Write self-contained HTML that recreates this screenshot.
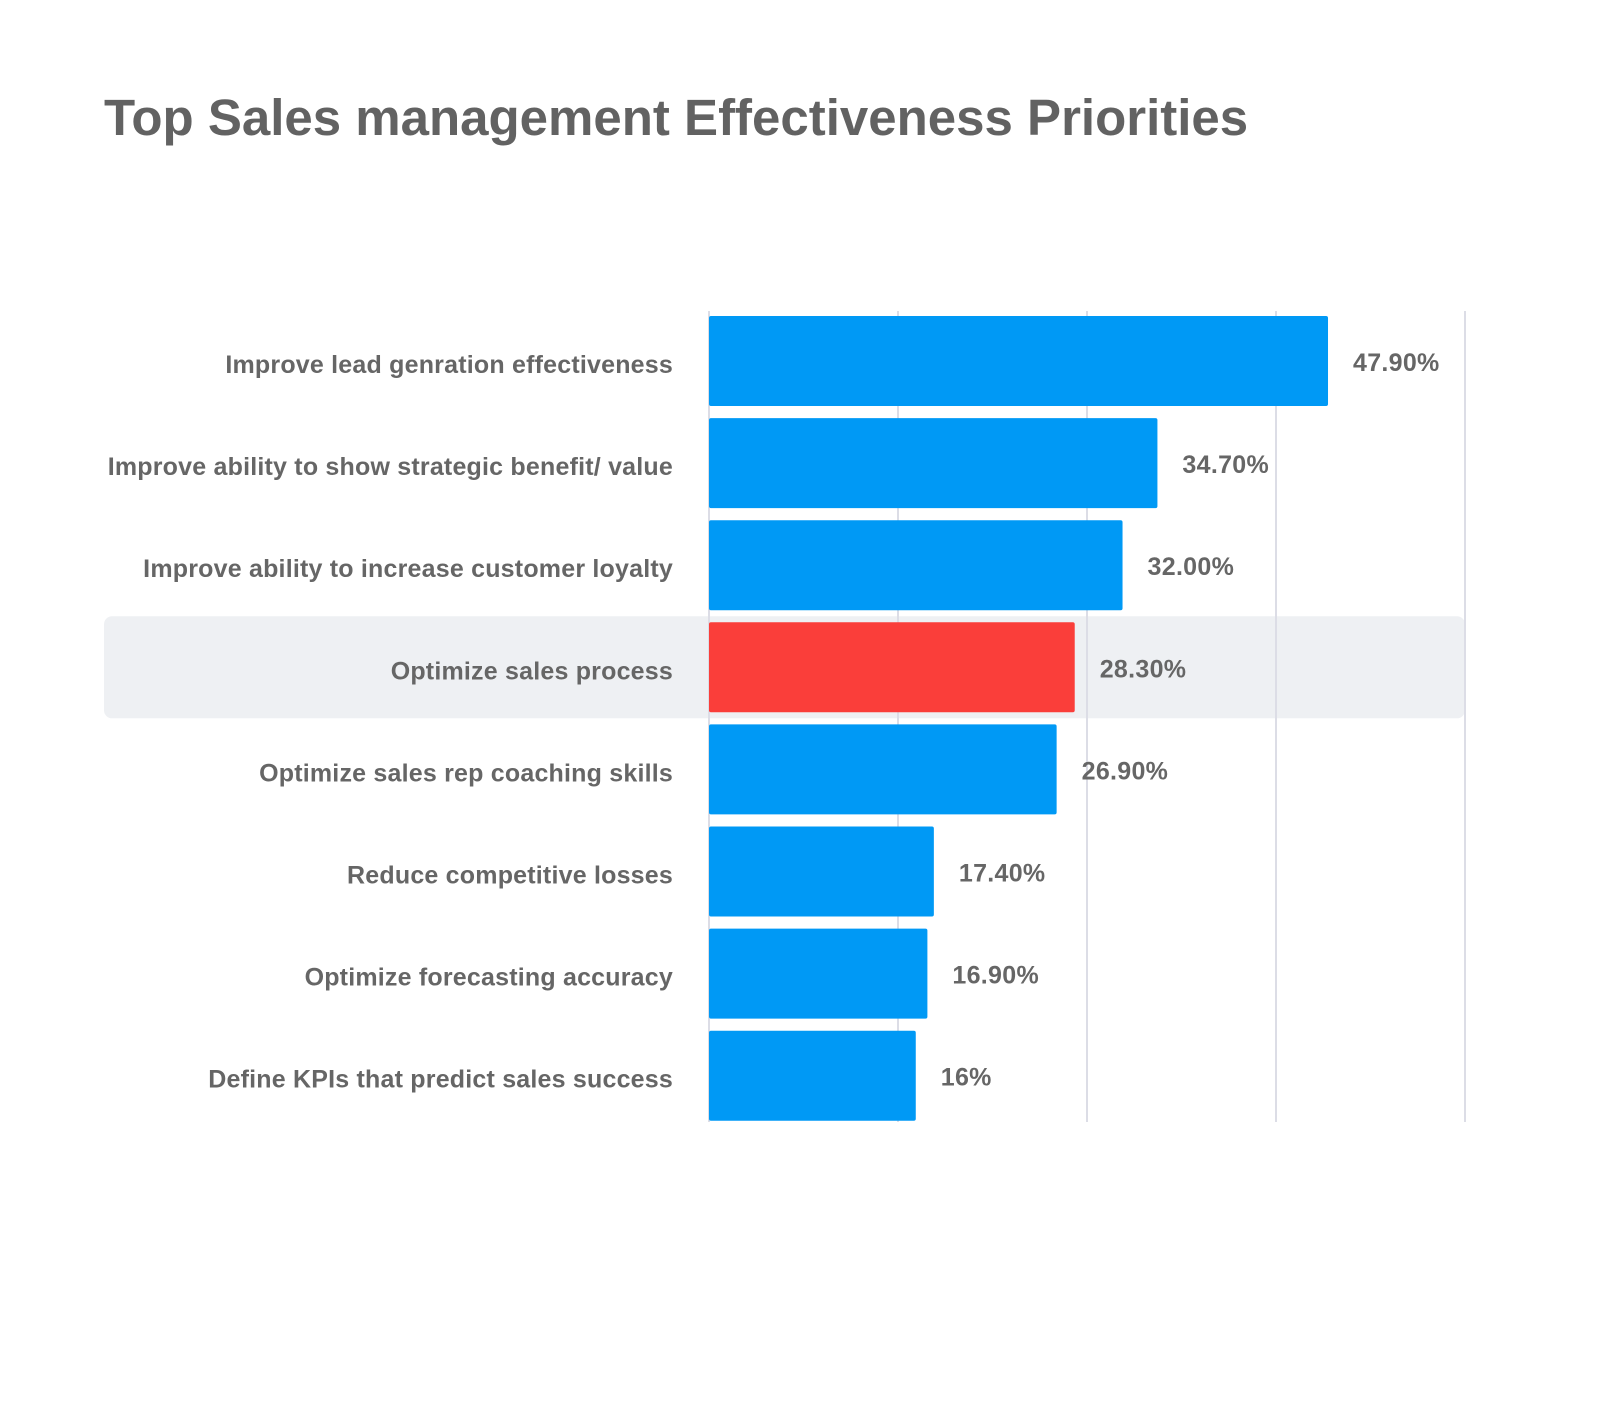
<!DOCTYPE html>
<html><head><meta charset="utf-8"><style>
html,body{margin:0;padding:0;background:#fff;}
body{width:1600px;height:1406px;position:relative;overflow:hidden;font-family:"Liberation Sans",sans-serif;}
#title{position:absolute;left:104px;top:88px;font-size:51px;font-weight:bold;color:#626262;letter-spacing:0px;margin:0;}
</style></head><body>
<h1 id="title">Top Sales management Effectiveness Priorities</h1>
<svg id="chart" width="1600" height="1406" style="position:absolute;left:0;top:0"></svg>
<script>
const categories=["Improve lead genration effectiveness","Improve ability to show strategic benefit/ value","Improve ability to increase customer loyalty","Optimize sales process","Optimize sales rep coaching skills","Reduce competitive losses","Optimize forecasting accuracy","Define KPIs that predict sales success"];
const values=[47.9,34.7,32.0,28.3,26.9,17.4,16.9,16];
const valueLabels=["47.90%","34.70%","32.00%","28.30%","26.90%","17.40%","16.90%","16%"];
const highlightIndex=3;
const axisMax=58.5;
const gridTicks=[0,14.625,29.25,43.875,58.5];

const NS="http://www.w3.org/2000/svg";
const svg=document.getElementById('chart');
const x0=709,x1=1465,top0=316,step=102.1,barH=90;
const xs=v=>x0+(v/axisMax)*(x1-x0);
const ys=i=>top0+i*step;
function mk(tag,attrs){const e=document.createElementNS(NS,tag);for(const k in attrs)e.setAttribute(k,attrs[k]);svg.appendChild(e);return e;}

const band=mk('rect',{x:104,y:ys(highlightIndex)-6,width:x1-104,height:barH+12,rx:8,fill:'#eef0f3'});



gridTicks.forEach((t,i)=>{
  const g=mk('line',{x1:xs(t),x2:xs(t),y1:311,y2:1122,stroke:'#dcdde6','stroke-width':2});
  
  
});

categories.forEach((c,i)=>{
  const y=ys(i);
  const b=mk('rect',{x:x0,y:y,width:xs(values[i])-x0,height:barH,rx:2,fill:i===highlightIndex?'#fa3e3a':'#0099f5'});
  
  
  const l=mk('text',{x:673,y:y+barH/2+12,'text-anchor':'end','font-size':25,'letter-spacing':0.2,'font-weight':'bold',fill:'#666','font-family':'Liberation Sans, sans-serif'});
  l.textContent=c;
  
  
  const v=mk('text',{x:xs(values[i])+25,y:y+barH/2+10,'font-size':25,'letter-spacing':0.3,'font-weight':'bold',fill:'#666','font-family':'Liberation Sans, sans-serif'});
  v.textContent=valueLabels[i];
  
  
});
</script>
</body></html>
